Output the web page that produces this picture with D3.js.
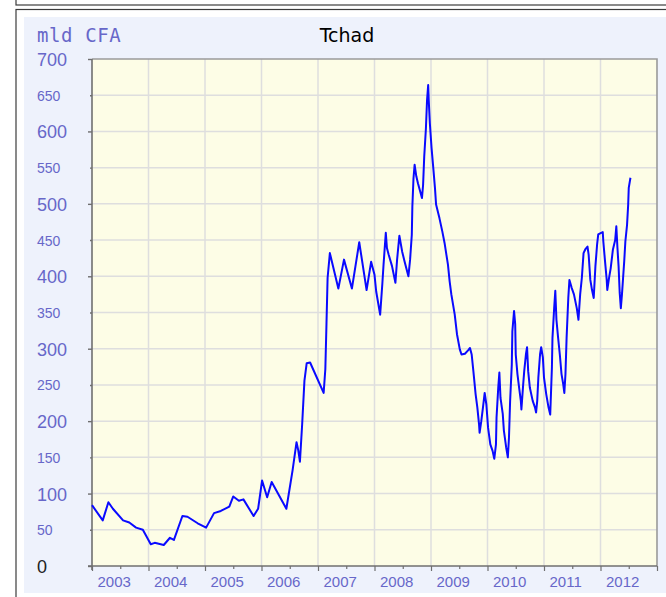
<!DOCTYPE html>
<html>
<head>
<meta charset="utf-8">
<script src="https://cdn.jsdelivr.net/npm/d3@7"></script>
<style>
  html, body { margin: 0; padding: 0; background: #ffffff; }
  svg { display: block; }
</style>
</head>
<body>
<svg id="chart" width="666" height="597"></svg>
<script>
// Tchad — weekly series, in billions of CFA francs (mld CFA)
const title = "Tchad";
const unitLabel = "mld CFA";
const yearLabels = ["2003", "2004", "2005", "2006", "2007", "2008", "2009", "2010", "2011", "2012"];
const yTickValues = [0, 50, 100, 150, 200, 250, 300, 350, 400, 450, 500, 550, 600, 650, 700];

// time as decimal years
const times = [
  2003.00, 2003.19, 2003.29, 2003.37, 2003.55, 2003.66, 2003.78, 2003.90,
  2004.04, 2004.11, 2004.27, 2004.38, 2004.45, 2004.60, 2004.69, 2004.87,
  2005.02, 2005.16, 2005.28, 2005.43, 2005.50, 2005.60, 2005.68, 2005.86, 2005.94,
  2006.01, 2006.10, 2006.18, 2006.44, 2006.55, 2006.62, 2006.65, 2006.68, 2006.72,
  2006.76, 2006.80, 2006.86, 2007.10, 2007.13, 2007.15, 2007.17, 2007.21, 2007.36,
  2007.46, 2007.60, 2007.73, 2007.86, 2007.94,
  2008.00, 2008.03, 2008.10, 2008.14, 2008.16, 2008.20, 2008.22, 2008.25, 2008.31,
  2008.37, 2008.40, 2008.44, 2008.49, 2008.53, 2008.60, 2008.63, 2008.66, 2008.67,
  2008.69, 2008.71, 2008.74, 2008.77, 2008.84, 2008.86, 2008.88, 2008.91, 2008.93,
  2008.95, 2008.96, 2008.98,
  2009.01, 2009.04, 2009.07, 2009.09, 2009.15, 2009.20, 2009.24, 2009.30, 2009.33,
  2009.36, 2009.42, 2009.46, 2009.51, 2009.54, 2009.60, 2009.66, 2009.69, 2009.72,
  2009.75, 2009.79, 2009.82, 2009.85, 2009.86, 2009.89, 2009.92, 2009.95, 2009.98,
  2010.01, 2010.05, 2010.09, 2010.12, 2010.15, 2010.16, 2010.19, 2010.21, 2010.23,
  2010.27, 2010.29, 2010.33, 2010.36, 2010.38, 2010.40, 2010.43, 2010.44, 2010.47,
  2010.49, 2010.50, 2010.53, 2010.56, 2010.59, 2010.60, 2010.63, 2010.65, 2010.68,
  2010.70, 2010.72, 2010.75, 2010.80, 2010.84, 2010.86, 2010.88, 2010.90, 2010.93,
  2010.95, 2010.98,
  2011.00, 2011.04, 2011.08, 2011.11, 2011.14, 2011.15, 2011.18, 2011.20, 2011.22,
  2011.25, 2011.28, 2011.31, 2011.34, 2011.36, 2011.38, 2011.40, 2011.43, 2011.45,
  2011.49, 2011.53, 2011.58, 2011.61, 2011.64, 2011.67, 2011.70, 2011.73, 2011.77,
  2011.79, 2011.82, 2011.85, 2011.88, 2011.91, 2011.94, 2011.96,
  2012.01, 2012.04, 2012.05, 2012.08, 2012.11, 2012.12, 2012.15, 2012.18, 2012.22,
  2012.26, 2012.28, 2012.30, 2012.32, 2012.34, 2012.36, 2012.38, 2012.40, 2012.42,
  2012.44, 2012.47, 2012.49, 2012.50, 2012.53
];

const values = [
  84, 63, 88, 79, 63, 60, 53, 50,
  30, 32, 29, 39, 36, 69, 68, 59,
  53, 73, 76, 82, 96, 90, 92, 69, 79,
  118, 95, 116, 79, 132, 171, 160, 144, 196,
  256, 280, 281, 239, 272, 334, 398, 432, 383,
  423, 383, 447, 381, 420,
  402, 379, 347, 391, 416, 460, 439, 430, 414,
  391, 423, 456, 434, 421, 400, 423, 457, 496,
  535, 554, 538, 528, 508, 526, 565, 604, 643,
  664, 643, 611,
  577, 550, 522, 499, 480, 462, 446, 416, 393,
  375, 347, 320, 299, 292, 293, 298, 301, 292,
  269, 237, 219, 196, 184, 200, 219, 239, 223,
  191, 168, 159, 148, 168, 205, 246, 267, 232,
  210, 187, 164, 150, 177, 227, 278, 324, 352,
  334, 292, 265, 246, 228, 216, 249, 269, 292,
  302, 269, 246, 228, 219, 212, 228, 260, 292,
  302, 288,
  260, 237, 219, 209, 274, 315, 356, 380, 340,
  315, 292, 265, 251, 239, 265, 315, 370, 395,
  384, 375, 356, 340, 375, 398, 432, 437, 441,
  430, 395, 381, 370, 414, 444, 458,
  460, 461, 448, 421, 395, 381, 397, 411, 437,
  450, 469, 439, 414, 377, 356, 375, 398, 421,
  448, 471, 499, 522, 536
];

const series = times.map((t, i) => ({ t, v: values[i] }));

const svg = d3.select("#chart");
const W = 666, H = 597;
const plot = { left: 92, right: 657, top: 59, bottom: 566 };
const labelBlue = "#6767c9";

// outer frames
svg.append("rect")
  .attr("x", 16).attr("y", -20).attr("width", 700).attr("height", 25)
  .attr("fill", "none").attr("stroke", "#3c3c3c").attr("stroke-width", 1.2);
svg.append("rect")
  .attr("x", 16).attr("y", 9.5).attr("width", 700).attr("height", 700)
  .attr("fill", "none").attr("stroke", "#3c3c3c").attr("stroke-width", 1.2);

// light panel behind the chart
svg.append("rect")
  .attr("x", 24).attr("y", 17).attr("width", W).attr("height", 576)
  .attr("fill", "#eef2fc");

const x = d3.scaleLinear().domain([2003, 2013]).range([plot.left, plot.right]);
const y = d3.scaleLinear().domain([0, 700]).range([plot.bottom, plot.top]);

// plot background
svg.append("rect")
  .attr("x", plot.left).attr("y", plot.top)
  .attr("width", plot.right - plot.left).attr("height", plot.bottom - plot.top)
  .attr("fill", "#fdfde6");

// grid
const yearBounds = d3.range(2003, 2014);
svg.append("g")
  .selectAll("line")
  .data(yTickValues.filter(v => v > 0 && v < 700))
  .join("line")
  .attr("x1", plot.left).attr("x2", plot.right)
  .attr("y1", d => y(d)).attr("y2", d => y(d))
  .attr("stroke", "#dedede").attr("stroke-width", 1.5);
svg.append("g")
  .selectAll("line")
  .data(yearBounds.filter(t => t > 2003 && t < 2013))
  .join("line")
  .attr("x1", d => x(d)).attr("x2", d => x(d))
  .attr("y1", plot.top).attr("y2", plot.bottom)
  .attr("stroke", "#dedede").attr("stroke-width", 1.5);

// plot border (top and right)
svg.append("path")
  .attr("d", `M${plot.left},${plot.top}H${plot.right}V${plot.bottom}`)
  .attr("fill", "none").attr("stroke", "#9a9a9a").attr("stroke-width", 1.6);

// y axis
const yAxis = svg.append("g")
  .attr("transform", `translate(${plot.left},0)`)
  .call(d3.axisLeft(y).tickValues(yTickValues).tickSizeOuter(0).tickPadding(0));
yAxis.select(".domain")
  .attr("d", `M0,${plot.top}V${plot.bottom + 4}`)
  .attr("stroke", "#6f6f6f").attr("stroke-width", 1.6);
yAxis.selectAll(".tick line")
  .attr("x2", d => d % 100 === 0 ? -4 : -2)
  .attr("stroke", "#6f6f6f").attr("stroke-width", 1.4);
yAxis.selectAll(".tick text")
  .attr("x", 37 - plot.left)
  .attr("dy", "0.36em")
  .attr("text-anchor", "start")
  .attr("font-family", "'Liberation Sans', Arial, sans-serif")
  .attr("font-size", d => d % 100 === 0 ? 18 : 14)
  .attr("fill", d => d === 0 ? "#222222" : labelBlue);

// x axis
const xAxis = svg.append("g")
  .attr("transform", `translate(0,${plot.bottom})`)
  .call(d3.axisBottom(x)
    .tickValues(d3.range(2003, 2013.01, 0.5))
    .tickSizeOuter(0)
    .tickFormat(""));
xAxis.select(".domain")
  .attr("d", `M${plot.left - 4},0H${plot.right}`)
  .attr("stroke", "#6f6f6f").attr("stroke-width", 1.6);
xAxis.selectAll(".tick line")
  .attr("y2", d => Number.isInteger(d) ? 5 : 3)
  .attr("stroke", "#6f6f6f").attr("stroke-width", 1.2);

svg.append("g")
  .selectAll("text")
  .data(yearLabels)
  .join("text")
  .attr("x", d => x(+d) + 5.5)
  .attr("y", 587)
  .attr("font-family", "'Liberation Sans', Arial, sans-serif")
  .attr("font-size", 15)
  .attr("fill", labelBlue)
  .text(d => d);

// series line
svg.append("path")
  .datum(series)
  .attr("fill", "none")
  .attr("stroke", "#0a0aff")
  .attr("stroke-width", 2)
  .attr("stroke-linejoin", "round")
  .attr("d", d3.line().x(d => x(d.t)).y(d => y(d.v)));

// titles
svg.append("text")
  .attr("x", 37).attr("y", 42)
  .attr("font-family", "'DejaVu Sans Mono', monospace")
  .attr("font-size", 19)
  .attr("letter-spacing", 0.6)
  .attr("fill", labelBlue)
  .text(unitLabel);

svg.append("text")
  .attr("x", 347).attr("y", 42)
  .attr("text-anchor", "middle")
  .attr("font-family", "'DejaVu Sans', Verdana, sans-serif")
  .attr("font-size", 19)
  .attr("fill", "#000000")
  .text(title);
</script>
</body>
</html>
